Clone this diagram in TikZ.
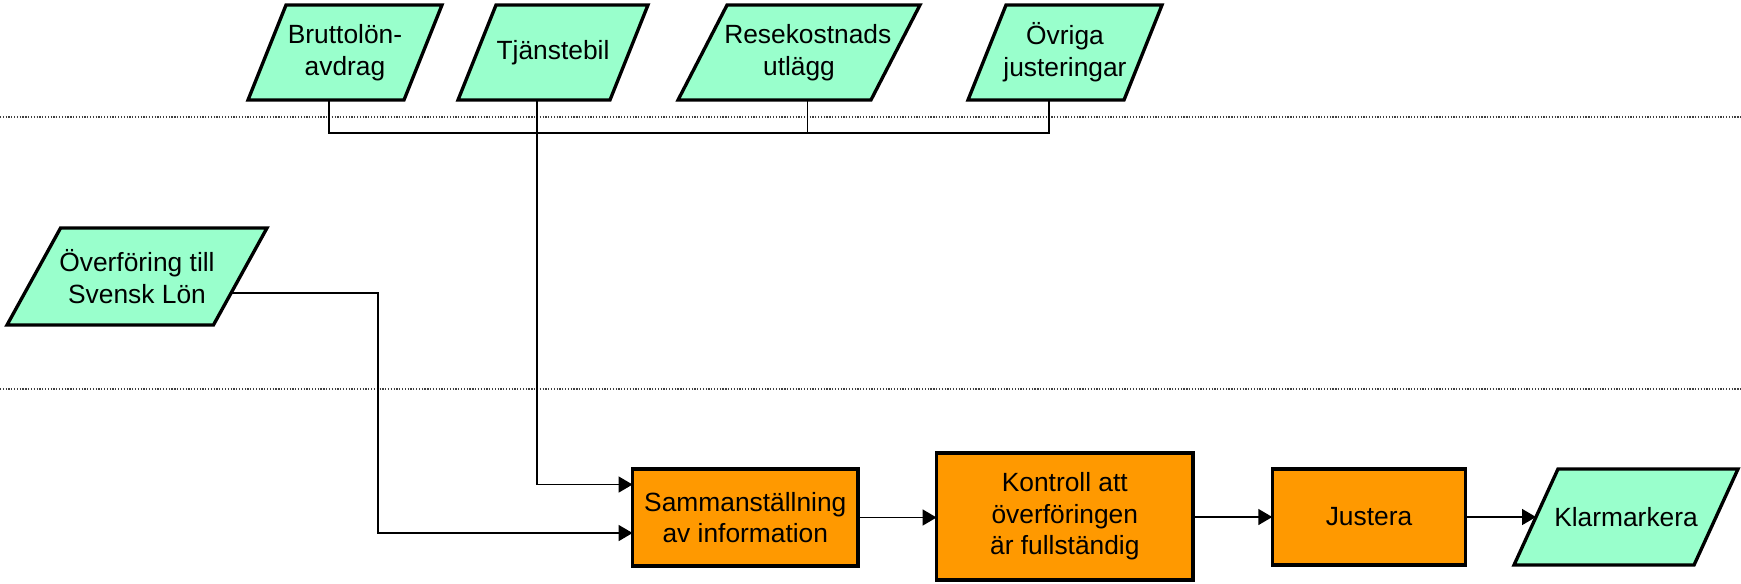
\documentclass[tikz,border=0pt]{standalone}
\usepackage{fontspec}
\setmainfont{Liberation Sans}
\usetikzlibrary{shapes.geometric,arrows.meta,calc}
\definecolor{datagreen}{RGB}{153,255,204}
\definecolor{steporange}{RGB}{255,153,0}
% a centred line of zero width, and a stack of such lines of fixed height
\newcommand\ioline[1]{\hbox to 0pt{\hss#1\hss}}
\newcommand\iobox[2]{\vbox to #1{\vss#2\vss}}
\begin{document}
\begin{tikzpicture}[x=0.02cm,y=-0.02cm,
  every node/.style={font=\fontsize{15}{18}\selectfont, inner sep=0pt, outer sep=0pt},
  io/.style 2 args={trapezium, trapezium stretches body, draw, line width=1.9pt,
    fill=datagreen, trapezium left angle=#1, trapezium right angle=#2},
  proc/.style={rectangle, draw, line width=1.9pt, fill=steporange, align=center},
  conn/.style={line width=0.9pt},
  arr/.style={conn, -{Triangle[length=0.28cm,width=0.32cm]}},
  lane/.style={line width=0.6pt, black!75, dash pattern=on 0.7pt off 0.9pt}
]
\useasboundingbox (0,0) rectangle (1741,583);

% lane separators
\draw[lane] (0,117) -- (1741,117);
\draw[lane] (0,389) -- (1741,389);

% input data
\node[io={68.2}{111.8}, minimum width=3.88cm] (brutto) at (345,52.5)
  {\iobox{1.9cm}{\ioline{Bruttolön-}\ioline{avdrag}}};
\node[io={68.2}{111.8}, minimum width=3.8cm] (tjanst) at (553,52.5)
  {\iobox{1.9cm}{\ioline{Tjänstebil}}};
\node[io={62.7}{117.3}, minimum width=4.84cm] (rese) at (799,52.5)
  {\iobox{1.9cm}{\ioline{\hspace{0.35cm}Resekostnads}\ioline{utlägg}}};
\node[io={68.2}{111.8}, minimum width=3.88cm] (ovriga) at (1065,52.5)
  {\iobox{1.9cm}{\ioline{Övriga}\ioline{justeringar}}};
\node[io={61.1}{118.9}, minimum width=5.2cm] (overf) at (137,276.5)
  {\iobox{1.94cm}{\ioline{Överföring till}\ioline{Svensk Lön}}};

% process steps
\node[proc, minimum width=4.51cm, minimum height=1.94cm] (samm) at (745.3,517.5) {Sammanställning\\av information};
\node[proc, minimum width=5.13cm, minimum height=2.54cm] (kontroll) at (1064.8,516.5) {Kontroll att\\överföringen\\är fullständig};
\node[proc, minimum width=3.87cm, minimum height=1.92cm] (justera) at (1369,517) {Justera};
\node[io={65.4}{114.6}, minimum width=4.48cm] (klar) at (1626,517)
  {\iobox{1.92cm}{\ioline{Klarmarkera}}};

% collecting bus under the top inputs
\coordinate (busy) at (0,133);
\coordinate (bruttoout) at ($(brutto.bottom left corner)!0.52!(brutto.bottom right corner)$);
\coordinate (tjanstout) at ($(tjanst.bottom left corner)!0.52!(tjanst.bottom right corner)$);
\coordinate (reseout) at ($(rese.bottom left corner)!0.67!(rese.bottom right corner)$);
\coordinate (ovrigaout) at ($(ovriga.bottom left corner)!0.52!(ovriga.bottom right corner)$);
\draw[conn] (bruttoout) -- (bruttoout |- busy) -- (ovrigaout |- busy) -- (ovrigaout);
\draw[conn] (reseout) -- (reseout |- busy);

% inputs into the compilation step
\coordinate (sammin1) at ($(samm.north west)!0.16!(samm.south west)$);
\coordinate (sammin2) at ($(samm.north west)!0.66!(samm.south west)$);
\coordinate (overfout) at ($(overf.bottom right corner)!0.33!(overf.top right corner)$);
\coordinate (turn) at (378,0);
\draw[arr] (tjanstout) |- (sammin1);
\draw[arr] (overfout) -- (overfout -| turn) |- (sammin2);

% main flow
\draw[arr] (samm.east) -- (kontroll.west |- samm.east);
\draw[arr] (kontroll.east |- justera.west) -- (justera.west);
\draw[arr] (justera.east) -- (klar.left side);
\end{tikzpicture}
\end{document}
